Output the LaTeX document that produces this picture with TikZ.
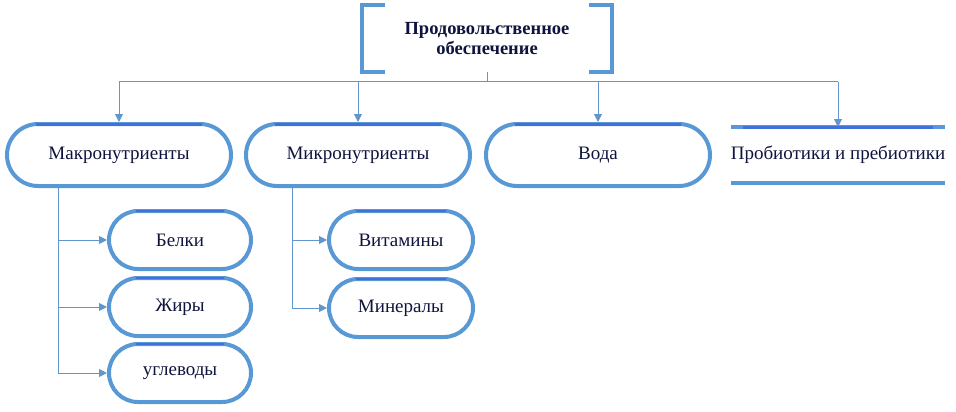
\documentclass[tikz,border=0pt]{standalone}
\usepackage{fontspec}
\setmainfont{Liberation Serif}
\usetikzlibrary{arrows.meta}
\definecolor{lb}{RGB}{88,152,212}
\definecolor{db}{RGB}{66,110,222}
\definecolor{ln}{RGB}{96,150,205}
\definecolor{tx}{RGB}{14,20,60}
\begin{document}
\begin{tikzpicture}[x=1pt,y=-1pt,
  pill/.style={draw=lb, line width=4pt, rounded corners=#1, inner sep=0pt, text=tx,
    font=\fontsize{19}{21}\selectfont},
  big/.style={pill=31, minimum width=224pt, minimum height=62pt},
  small/.style={pill=29, minimum width=142pt, minimum height=58pt},
  topline/.style={draw=db, line width=3pt},
  conn/.style={draw=ln, line width=1pt},
  arr/.style={conn, -{Triangle[length=8pt,width=8pt]}},
  brk/.style={draw=lb, line width=4.5pt}]
\useasboundingbox (0,0) rectangle (956,412);

% top node
\node[inner sep=0pt, outer sep=0pt, minimum width=250pt, minimum height=67pt, align=center,
  text=tx, font=\fontsize{18.5}{20}\selectfont\bfseries] (top) at (487,38.5)
  {Продовольственное\\обеспечение};
\draw[brk] ([xshift=23pt]top.north west) -- (top.north west) -- (top.south west) -- ([xshift=23pt]top.south west);
\draw[brk] ([xshift=-23pt]top.north east) -- (top.north east) -- (top.south east) -- ([xshift=-23pt]top.south east);

% row of main nodes
\node[big] (macro) at (119,155) {Макронутриенты};
\node[big] (micro) at (358,155) {Микронутриенты};
\node[big] (voda)  at (598,155) {Вода};
\node[inner sep=0pt, outer sep=0pt, minimum width=209pt, minimum height=56pt, text=tx,
  font=\fontsize{19}{21}\selectfont] (probio) at (838,155) {Пробиотики и пребиотики};
\draw[draw=lb, line width=4pt] (probio.north west) -- (probio.north east);
\draw[draw=lb, line width=4pt] (probio.south west) -- (probio.south east);

\foreach \n in {macro,micro,voda}
  \draw[topline] ([xshift=31pt,yshift=-2pt]\n.north west) -- ([xshift=-31pt,yshift=-2pt]\n.north east);
\draw[topline] ([xshift=12pt]probio.north west) -- ([xshift=-12pt]probio.north east);

% bus
\draw[conn] (top.south) -- ++(0,10) coordinate (bus);
\draw[conn] (bus -| macro.north) -- (bus -| probio.north);
\foreach \n in {macro,micro,voda,probio}
  \draw[arr] (bus -| \n.north) -- (\n.north);

% sub nodes
\node[small] (belki) at (180,240) {Белки};
\node[small] (zhiry) at (180,307) {Жиры};
\node[small] (ugl)   at (180,373) {углеводы};
\node[small, minimum width=144pt] (vit) at (401,240) {Витамины};
\node[small, minimum width=144pt] (min) at (401,308) {Минералы};

\foreach \n in {belki,zhiry,ugl,vit,min}
  \draw[topline, line width=2pt] ([xshift=29pt,yshift=-2pt]\n.north west) -- ([xshift=-29pt,yshift=-2pt]\n.north east);

\coordinate (mx) at ([xshift=-61pt]macro.south);
\coordinate (nx) at ([xshift=-66pt]micro.south);
\draw[conn] (mx) -- (mx |- ugl.west);
\foreach \n in {belki,zhiry,ugl}
  \draw[arr] (mx |- \n.west) -- (\n.west);
\draw[conn] (nx) -- (nx |- min.west);
\foreach \n in {vit,min}
  \draw[arr] (nx |- \n.west) -- (\n.west);
\end{tikzpicture}
\end{document}
